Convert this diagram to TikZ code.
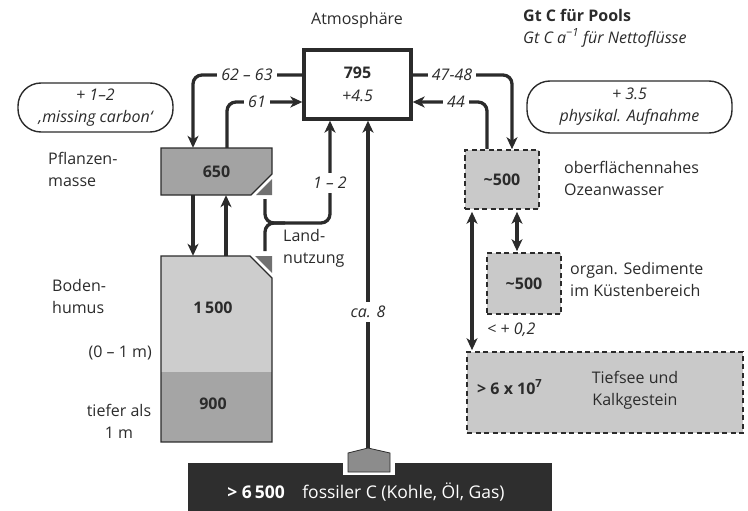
\documentclass[tikz,border=0pt]{standalone}
\usepackage{fontspec}
\setmainfont{Open Sans}
\usetikzlibrary{arrows.meta}
\definecolor{ink}{HTML}{2B2B2B}
\definecolor{plantc}{HTML}{A3A3A3}
\definecolor{soilup}{HTML}{CDCDCD}
\definecolor{soillow}{HTML}{A5A5A5}
\definecolor{tric}{HTML}{707070}
\definecolor{oceanc}{HTML}{C9C9C9}
\definecolor{fossc}{HTML}{2E2E2E}
\definecolor{pentc}{HTML}{8C8C8C}
\newcommand\fs{\fontsize{16}{22}\selectfont}
\begin{document}
\begin{tikzpicture}[x=1pt,y=-1pt,
  every node/.style={font=\fs, inner sep=1pt, text=ink},
  flow/.style={draw=ink, line width=3.3pt, rounded corners=9pt},
  tip/.style={-{Stealth[length=12pt,width=11pt,inset=3.5pt]}},
  dtip/.style={{Stealth[length=12pt,width=11pt,inset=3.5pt]}-{Stealth[length=12pt,width=11pt,inset=3.5pt]}},
  flowlbl/.style={fill=white, inner sep=4pt, font=\fs\itshape},
  oceanbox/.style={draw=ink, line width=1.6pt, dash pattern=on 5pt off 3.5pt, fill=oceanc},
  pill/.style={draw=ink, line width=1.4pt, rounded corners=23pt, align=center, font=\fs\itshape},
  side/.style={align=left}
]
\useasboundingbox (0,0) rectangle (748,511);

% ---------- pools ----------
\node[draw=ink, line width=3.3pt, minimum width=107pt, minimum height=69pt, align=center] (atm) at (357.5,84.5) {\textbf{795}\\[1pt]\textit{+4.5}};
\node (atmlbl) at (357,20) {Atmosphäre};

% plant box
\filldraw[fill=plantc, draw=ink, line width=1.4pt] (161,148) -- (272,148) -- (272,174) -- (251,195) -- (161,195) -- cycle;
\fill[tric] (272,179) -- (272,195) -- (256,195) -- cycle;
\node[minimum width=111pt, minimum height=47pt] (plant) at (216.5,171.5) {\textbf{650}};

% soil box
\fill[soilup] (161,256) -- (250,256) -- (272,278) -- (272,372) -- (161,372) -- cycle;
\fill[soillow] (161,372) rectangle (272,442);
\draw[ink, line width=1.4pt] (161,256) -- (250,256) -- (272,278) -- (272,442) -- (161,442) -- cycle;
\fill[tric] (255,256) -- (272,256) -- (272,273) -- cycle;
\node[minimum width=111pt, minimum height=186pt] (soil) at (216.5,349) {};
\node (s1500) at (213,308) {\textbf{1\,500}};
\node (s900) at (213,404) {\textbf{900}};

% fossil
\node[fill=fossc, minimum width=364pt, minimum height=48pt, anchor=north west, inner sep=0pt] (foss) at (188,463) {};
\fill[white] (343,463) rectangle (395,475);
\filldraw[fill=pentc, draw=ink, line width=0.8pt] (348,472) -- (348,453) -- (368,448) -- (390,453) -- (390,472) -- cycle;
\coordinate (fospeak) at (368,448);
\node[text=white, font=\fontsize{17.5}{22}\selectfont] (fosstxt) at (366,492) {\textbf{> 6\,500}\quad fossiler C (Kohle, Öl, Gas)};

% ocean
\node[oceanbox, minimum width=74pt, minimum height=59pt] (surf) at (502,179.5) {\textbf{\textasciitilde500}};
\node[oceanbox, minimum width=74pt, minimum height=61pt] (sed) at (524,283.5) {\textbf{\textasciitilde500}};
\node[oceanbox, minimum width=276pt, minimum height=81pt] (deep) at (605,392.5) {};
\node[anchor=west] (deepval) at (476,387) {\textbf{> 6 x 10\textsuperscript{7}}};
\node[align=center] (deeplbl) at (635,390) {Tiefsee und\\Kalkgestein};

% ---------- connectors ----------
\draw[flow,tip] ([yshift=9.5pt]atm.west) -- (193,75) -- (193,75 |- plant.north);
\draw[flow,tip] (227,0 |- plant.north) -- (227,102) -- ([yshift=-17.5pt]atm.west);
\draw[flow,tip] ([yshift=9.5pt]atm.east) -- (512,75) -- (512,0 |- surf.north);
\draw[flow,tip] (487,0 |- surf.north) -- (487,102) -- ([yshift=-17.5pt]atm.east);

\coordinate (luA) at (265,199);
\coordinate (luB) at (265,251);
\draw[flow,tip] (luA) -- (265,223) -- (330,223) -- (330,0 |- atm.south);
\draw[flow] (luB) -- (265,223) -- (285,223);

\draw[flow,tip] (fospeak) -- (368,0 |- atm.south);

\draw[flow,tip] (193,0 |- plant.south) -- (193,0 |- soil.north);
\draw[flow,tip] (226,0 |- soil.north) -- (226,0 |- plant.south);

\draw[flow,dtip,shorten <=2pt,shorten >=1pt] (472,0 |- surf.south) -- (472,0 |- deep.north);
\draw[flow,dtip,shorten <=2pt,shorten >=1pt] (517,0 |- surf.south) -- (517,0 |- sed.north);

% ---------- flow labels ----------
\node[flowlbl] (f6263) at (247,75) {62 – 63};
\node[flowlbl] (f61) at (257,102) {61};
\node[flowlbl] (f4748) at (452,75) {47-48};
\node[flowlbl] (f44) at (456,102) {44};
\node[flowlbl] (f12) at (330,183) {1 – 2};
\node[flowlbl] (fca8) at (368,312) {ca. 8};
\node[anchor=west, font=\fs\itshape] (f02) at (486,330) {< + 0,2};

% ---------- side labels ----------
\node[pill, minimum width=155pt, minimum height=49pt] (mc) at (95.5,107.5) {+ 1–2\\‚missing carbon‘};
\node[pill, minimum width=205pt, minimum height=52pt] (pa) at (629.5,107) {+ 3.5\\physikal. Aufnahme};

\node[anchor=west] (legA) at (522,15) {\textbf{Gt C für Pools}};
\node[anchor=west, font=\fs\itshape] (legB) at (522,38) {Gt C a\textsuperscript{−1} für Nettoflüsse};

\node[side, anchor=west] (plbl) at (47,169) {Pflanzen-\\masse};
\node[side, anchor=west] (blbl) at (51,296) {Boden-\\humus};
\node[anchor=east] (d01) at (153,353) {(0 – 1 m)};
\node[align=center] (dtief) at (119,421) {tiefer als\\1 m};
\node[side, anchor=west] (lulbl) at (282,248) {Land-\\nutzung};
\node[side, anchor=west] (surflbl) at (563,178) {oberflächennahes\\Ozeanwasser};
\node[side, anchor=west] (sedlbl) at (569,279) {organ. Sedimente\\im Küstenbereich};
\end{tikzpicture}
\end{document}
